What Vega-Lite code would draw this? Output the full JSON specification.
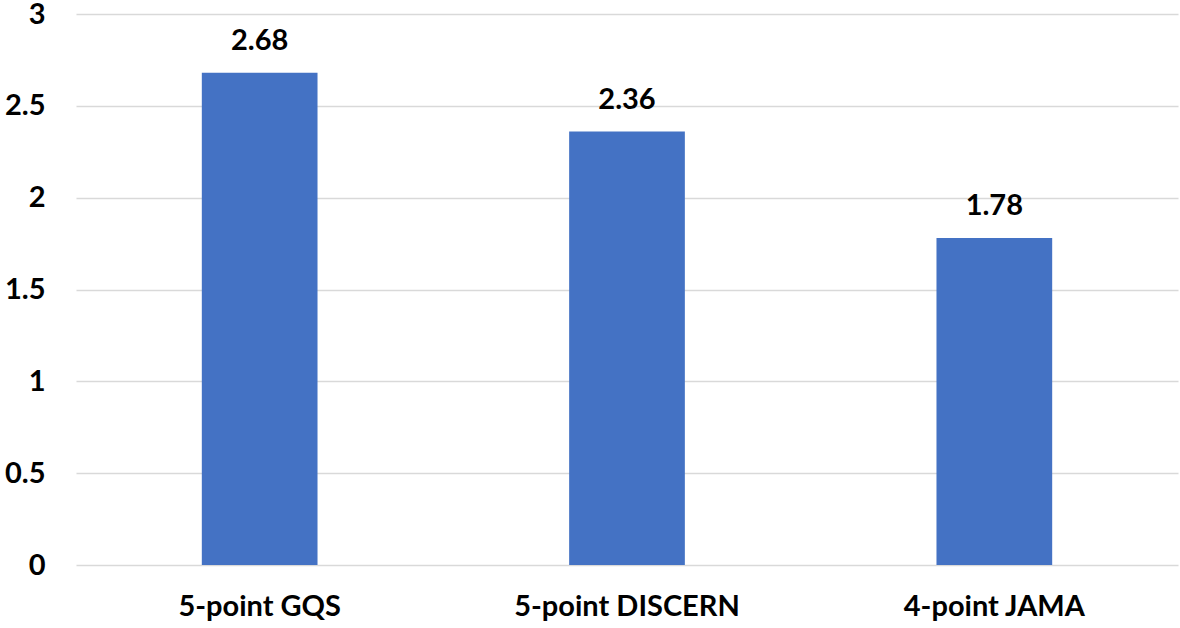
{
  "$schema": "https://vega.github.io/schema/vega-lite/v6.json",
  "width": 1102,
  "height": 551,
  "autosize": {"type": "none"},
  "padding": {"left": 76, "top": 14, "right": 2, "bottom": 63},
  "background": "white",
  "config": {"view": {"stroke": null}, "font": "Lato"},
  "data": {"values": [
    {"scale": "5-point GQS", "value": 2.68},
    {"scale": "5-point DISCERN", "value": 2.36},
    {"scale": "4-point JAMA", "value": 1.78}
  ]},
  "encoding": {
    "x": {"field": "scale", "type": "nominal", "sort": null,
      "scale": {"paddingInner": 0.685, "paddingOuter": 0.3425},
      "axis": {"title": null, "labelAngle": 0, "ticks": false, "domain": false, "labelLimit": 0,
        "labelFont": "Lato", "labelFontSize": 29, "labelFontWeight": "bold", "labelColor": "#000000", "labelPadding": 27}},
    "y": {"field": "value", "type": "quantitative",
      "scale": {"domain": [0, 3], "nice": false},
      "axis": {"title": null, "values": [0, 0.5, 1, 1.5, 2, 2.5, 3], "format": "~g", "ticks": false, "domain": false,
        "gridColor": "#d9d9d9", "gridWidth": 1.5,
        "labelFont": "Lato", "labelFontSize": 29, "labelFontWeight": "bold", "labelColor": "#000000", "labelPadding": 31}}
  },
  "layer": [
    {"mark": {"type": "bar", "color": "#4472C4"}},
    {"mark": {"type": "text", "baseline": "bottom", "dy": -17, "font": "Lato", "fontSize": 29, "fontWeight": "bold", "color": "#000000"},
     "encoding": {"text": {"field": "value", "type": "quantitative", "format": ".2f"}}}
  ]
}
